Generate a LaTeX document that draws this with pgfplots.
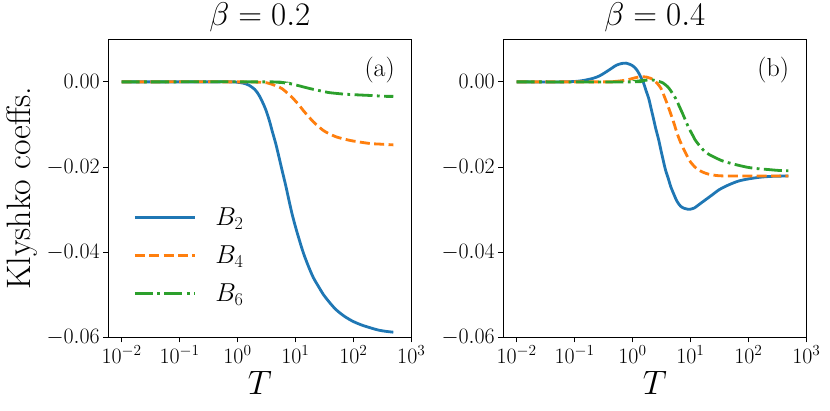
\RequirePackage{fix-cm}
\documentclass[border=0pt]{standalone}
\usepackage{fontspec}
\usepackage{pgfplots}
\usepackage{pgfplotstable}
\pgfplotsset{compat=1.18}
\definecolor{tabblue}{HTML}{1F77B4}
\definecolor{taborange}{HTML}{FF7F0E}
\definecolor{tabgreen}{HTML}{2CA02C}

% left panel (beta = 0.2)
\pgfplotstableread{
lt v
-2 0
-1 0
-0.5 0
-0.1 0
0 -0.0001
0.1 -0.0003
0.2 -0.0008
0.3 -0.0018
0.37 -0.0031
0.43 -0.0047
0.49 -0.0066
0.55 -0.0091
0.6 -0.0116
0.66 -0.0145
0.715 -0.0176
0.77 -0.0208
0.83 -0.0242
0.885 -0.0276
0.94 -0.0309
1.0 -0.0340
1.06 -0.0368
1.14 -0.0403
1.23 -0.0435
1.31 -0.0460
1.4 -0.0481
1.48 -0.0499
1.57 -0.0515
1.7 -0.0535
1.86 -0.0552
2.0 -0.0563
2.14 -0.0571
2.3 -0.0578
2.43 -0.0583
2.56 -0.0586
2.69 -0.0588
}\aBtwo
\pgfplotstableread{
lt v
-2 0
0 0
0.4 -0.0001
0.5 -0.0002
0.6 -0.0006
0.68 -0.0010
0.77 -0.0016
0.85 -0.0025
0.94 -0.0036
1.0 -0.0045
1.06 -0.0054
1.14 -0.0068
1.23 -0.0082
1.31 -0.0094
1.4 -0.0105
1.48 -0.0114
1.57 -0.0121
1.7 -0.0129
1.86 -0.0135
2.0 -0.0139
2.14 -0.0142
2.3 -0.0145
2.43 -0.0146
2.56 -0.0147
2.69 -0.0148
}\aBfour
\pgfplotstableread{
lt v
-2 0
0.5 0
0.7 -0.0001
0.85 -0.0003
1.0 -0.0007
1.14 -0.0012
1.29 -0.0017
1.43 -0.0021
1.57 -0.0025
1.7 -0.0027
1.86 -0.0029
2.0 -0.0030
2.14 -0.0031
2.3 -0.0032
2.43 -0.0033
2.56 -0.0034
2.69 -0.0034
}\aBsix
% right panel (beta = 0.4)
\pgfplotstableread{
lt v
-2 0
-1.2 0
-0.91 0.0002
-0.69 0.0008
-0.57 0.0014
-0.46 0.0023
-0.37 0.0031
-0.28 0.0039
-0.19 0.0043
-0.11 0.0044
-0.04 0.0041
0.03 0.0035
0.09 0.0025
0.14 0.0012
0.19 -0.0002
0.23 -0.0019
0.28 -0.0039
0.32 -0.0062
0.36 -0.0085
0.40 -0.0109
0.45 -0.0135
0.49 -0.0160
0.53 -0.0184
0.57 -0.0207
0.62 -0.0228
0.66 -0.0246
0.72 -0.0266
0.77 -0.0281
0.83 -0.0292
0.89 -0.0297
0.95 -0.0299
1.0 -0.0299
1.07 -0.0296
1.14 -0.0289
1.25 -0.0278
1.37 -0.0266
1.5 -0.0253
1.66 -0.0242
1.83 -0.0233
2.0 -0.0228
2.2 -0.0224
2.4 -0.0222
2.69 -0.0221
}\bBtwo
\pgfplotstableread{
lt v
-2 0
-0.4 0
-0.3 0.0001
-0.17 0.0003
-0.08 0.0005
0 0.0008
0.09 0.0011
0.17 0.0012
0.25 0.0011
0.32 0.0008
0.38 0.0003
0.43 -0.0004
0.49 -0.0015
0.54 -0.0031
0.6 -0.0052
0.66 -0.0075
0.72 -0.0099
0.77 -0.0121
0.83 -0.0142
0.89 -0.0160
0.95 -0.0176
1.0 -0.0188
1.07 -0.0199
1.14 -0.0207
1.23 -0.0213
1.32 -0.0217
1.45 -0.0220
1.6 -0.0221
2.0 -0.0221
2.69 -0.0221
}\bBfour
\pgfplotstableread{
lt v
-2 0
0.0 0
0.1 0.0002
0.23 0.0004
0.37 0.0004
0.46 0.0001
0.52 -0.0002
0.57 -0.0007
0.63 -0.0015
0.69 -0.0027
0.75 -0.0040
0.8 -0.0055
0.86 -0.0073
0.92 -0.0092
0.97 -0.0108
1.03 -0.0123
1.08 -0.0136
1.14 -0.0147
1.2 -0.0157
1.26 -0.0165
1.34 -0.0172
1.43 -0.0178
1.54 -0.0185
1.66 -0.0190
1.83 -0.0196
2.0 -0.0201
2.17 -0.0204
2.35 -0.0206
2.52 -0.0208
2.69 -0.0209
}\bBsix

\tikzset{
  lineA/.style={tabblue, line width=2.8bp},
  lineB/.style={taborange, line width=2.8bp, dash pattern=on 10bp off 4.4bp},
  lineC/.style={tabgreen, line width=2.8bp, dash pattern=on 18bp off 4.4bp on 2.8bp off 4.4bp},
}

\begin{document}
\begin{tikzpicture}
\path[use as bounding box] (0,0) rectangle (830bp,411bp);
\begin{axis}[
  at={(108.3bp,73.7bp)}, anchor=south west,
  scale only axis, width=303bp, height=298bp,
  xmode=log, xmin=0.005888, xmax=1000,
  ymin=-0.06, ymax=0.01,
  xtick={0.01,0.1,1,10,100,1000},
  ytick={-0.06,-0.04,-0.02,0},
  xminorticks=false, yminorticks=false,
  xtick pos=bottom, ytick pos=left,
  tick align=outside, major tick length=5bp,
  axis line style={line width=0.9bp},
  major tick style={line width=0.9bp, black},
  tick label style={font=\fontsize{22}{26}\selectfont},
  scaled y ticks=false,
  yticklabel style={/pgf/number format/fixed, /pgf/number format/fixed zerofill, /pgf/number format/precision=2},
  title style={font=\fontsize{33}{38}\selectfont, at={(axis description cs:0.5,1.027)}, anchor=base, inner sep=0pt},
  xlabel={$T$},
  xlabel style={font=\fontsize{34}{40}\selectfont, at={(axis description cs:0.5,-0.1936)}, anchor=base},
  title={$\beta = 0.2$},
  ylabel={Klyshko coeffs.},
  ylabel style={font=\fontsize{34}{40}\selectfont, at={(axis description cs:-0.2564,0.5)}, anchor=base},
  legend cell align=left,
  legend image code/.code={\draw[#1] (0bp,0bp) -- (60bp,0bp);},
  legend style={font=\fontsize{26}{30}\selectfont, draw=none, fill=none,
    at={(axis description cs:0.0824,0.2738)}, anchor=west, inner sep=0pt,
    row sep=15bp,
    /tikz/every odd column/.append style={column sep=17bp}},
]
\addplot[lineA, smooth] table[x expr=10^\thisrow{lt}, y=v] {\aBtwo};
\addlegendentry{$B_2$}
\addplot[lineB, smooth] table[x expr=10^\thisrow{lt}, y=v] {\aBfour};
\addlegendentry{$B_4$}
\addplot[lineC, smooth] table[x expr=10^\thisrow{lt}, y=v] {\aBsix};
\addlegendentry{$B_6$}
\node[font=\fontsize{26}{30}\selectfont] at (rel axis cs:0.8955,0.897) {(a)};
\end{axis}
\begin{axis}[
  at={(503.3bp,73.7bp)}, anchor=south west,
  scale only axis, width=303bp, height=298bp,
  xmode=log, xmin=0.005888, xmax=1000,
  ymin=-0.06, ymax=0.01,
  xtick={0.01,0.1,1,10,100,1000},
  ytick={-0.06,-0.04,-0.02,0},
  xminorticks=false, yminorticks=false,
  xtick pos=bottom, ytick pos=left,
  tick align=outside, major tick length=5bp,
  axis line style={line width=0.9bp},
  major tick style={line width=0.9bp, black},
  tick label style={font=\fontsize{22}{26}\selectfont},
  scaled y ticks=false,
  yticklabel style={/pgf/number format/fixed, /pgf/number format/fixed zerofill, /pgf/number format/precision=2},
  title style={font=\fontsize{33}{38}\selectfont, at={(axis description cs:0.5,1.027)}, anchor=base, inner sep=0pt},
  xlabel={$T$},
  xlabel style={font=\fontsize{34}{40}\selectfont, at={(axis description cs:0.5,-0.1936)}, anchor=base},
  title={$\beta = 0.4$},
]
\addplot[lineA, smooth] table[x expr=10^\thisrow{lt}, y=v] {\bBtwo};
\addplot[lineB, smooth] table[x expr=10^\thisrow{lt}, y=v] {\bBfour};
\addplot[lineC, smooth] table[x expr=10^\thisrow{lt}, y=v] {\bBsix};
\node[font=\fontsize{26}{30}\selectfont] at (rel axis cs:0.891,0.897) {(b)};
\end{axis}
\end{tikzpicture}
\end{document}
